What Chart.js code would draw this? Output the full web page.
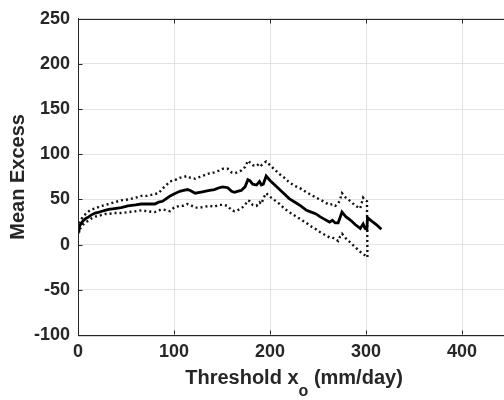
<!DOCTYPE html>
<html><head><meta charset="utf-8">
<script src="https://cdn.jsdelivr.net/npm/chart.js@4.4.0/dist/chart.umd.min.js"></script>
<style>html,body{margin:0;padding:0;background:#fff;overflow:hidden;width:504px;height:400px}</style>
</head><body>
<canvas id="c" width="520" height="400" style="width:520px;height:400px;display:block"></canvas>
<script>
const thresholds = [0,1,3,5,8,10,14,18,22,25,28,32,38,45,52,60,66,72,80,84,88,92,96,100,106,110,114,117,122,127,132,137,142,147,151,156,160,163,166,170,174,177,179,182,186,189,191,193,196,200,205,210,215,220,226,232,238,243,248,252,257,262,265,268,271,273,275,279,284,289,294,297,299,301,301.5,306,311,316];
const meanExcess = [15,19,23,26,29,30,33,35,36,37,38,39,40,41,43,44,45,45,45,47,48,51,54,56,59,60,61,60,57,58,59,60,61,63,64,63,59,58,59,60,64,72,71,67,66,70,66,67,76,71,66,61,56,51,47,43,38,36,34,31,28,25,27,24,24,30,36,31,27,22,18,23,18,17,30,26,22,17];
const upperBound = [18,22,27,31,34,36,39,40,42,43,44,45,47,49,50,52,54,54,56,57,62,66,70,71,74,75,76,74,73,75,77,79,80,82,84,84,80,79,80,82,86,93,91,88,87,90,88,90,92,88,83,78,74,69,65,62,58,55,52,50,47,44,45,43,45,50,57,52,48,43,40,52,49,48,-14,null,null,null];
const lowerBound = [12,15,19,22,25,26,29,31,32,33,34,34,35,35,36,37,38,37,36,38,39,38,37,41,43,43,45,44,41,41,42,43,42,44,44,43,38,37,38,40,44,49,48,44,43,47,45,51,57,53,49,45,40,36,32,28,24,20,17,14,11,8,8,6,4,9,12,7,2,-3,-8,-10,-12,-14,null,null,null,null];
const xTicks = [0,100,200,300,400];
const yTicks = [-100,-50,0,50,100,150,200,250];

const pts = arr => thresholds.map((x,i)=>({x:x,y:arr[i]}));
const FONT = "'Liberation Sans', Arial, sans-serif";
const INK = '#262626';

const frame = {
  id:'frame',
  afterDraw(chart){
    const {ctx, chartArea:a, scales} = chart;
    ctx.save();
    ctx.strokeStyle=INK; ctx.lineWidth=1;
    const L=Math.round(a.left)+0.5, T=Math.round(a.top)+0.5, B=Math.round(a.bottom)-0.5;
    ctx.strokeRect(L, T, a.right-a.left, a.bottom-a.top);
    // inward tick marks
    ctx.beginPath();
    xTicks.forEach(v=>{const px=Math.round(scales.x.getPixelForValue(v))+0.5; ctx.moveTo(px,B); ctx.lineTo(px,B-4); ctx.moveTo(px,T); ctx.lineTo(px,T+4);});
    yTicks.forEach(v=>{const py=Math.round(scales.y.getPixelForValue(v))+0.5; ctx.moveTo(L,py); ctx.lineTo(L+4,py);});
    ctx.stroke();
    ctx.fillStyle=INK;
    // x title with subscript
    ctx.font = "bold 20px " + FONT;
    ctx.textBaseline='alphabetic';
    const p1='Threshold x', p3=' (mm/day)';
    const w1=ctx.measureText(p1).width, w3=ctx.measureText(p3).width;
    ctx.font = "bold 16px " + FONT;
    const w2=ctx.measureText('o').width;
    const total=w1+w2+w3;
    let x0=(a.left+a.right)/2 - total/2;
    const base=384;
    ctx.font = "bold 20px " + FONT;
    ctx.fillText(p1,x0,base);
    ctx.font = "bold 16px " + FONT;
    ctx.fillText('o',x0+w1,base+12);
    ctx.font = "bold 20px " + FONT;
    ctx.fillText(p3,x0+w1+w2,base);
    // y title
    ctx.translate(18,(a.top+a.bottom)/2);
    ctx.rotate(-Math.PI/2);
    ctx.textAlign='center'; ctx.textBaseline='middle';
    ctx.fillText('Mean Excess',0,0);
    ctx.restore();
  }
};

new Chart(document.getElementById('c'),{
  type:'line',
  data:{datasets:[
    {label:'Mean excess',data:pts(meanExcess),borderColor:'#000',borderWidth:2.8,pointRadius:0,tension:0,spanGaps:false},
    {label:'Upper',data:pts(upperBound),borderColor:'#111',borderWidth:2.4,borderDash:[2,3],pointRadius:0,tension:0,spanGaps:false},
    {label:'Lower',data:pts(lowerBound),borderColor:'#111',borderWidth:2.4,borderDash:[2,3],pointRadius:0,tension:0,spanGaps:false}
  ]},
  options:{
    responsive:false,animation:false,
    layout:{padding:{top:14,right:10,left:0,bottom:0}},
    plugins:{legend:{display:false},tooltip:{enabled:false}},
    scales:{
      x:{type:'linear',min:0,max:450,
        afterBuildTicks:s=>{s.ticks=xTicks.map(v=>({value:v}));},
        afterFit:s=>{s.height=65;},
        ticks:{color:INK,padding:6,font:{family:FONT,size:18,weight:'bold'},maxRotation:0},
        grid:{color:'#e3e3e3',drawTicks:false},
        border:{display:true,color:INK,width:1}},
      y:{min:-100,max:250,
        afterBuildTicks:s=>{s.ticks=yTicks.map(v=>({value:v}));},
        afterFit:s=>{s.width=78;},
        ticks:{color:INK,padding:8,font:{family:FONT,size:18,weight:'bold'}},
        grid:{color:'#e3e3e3',drawTicks:false},
        border:{display:true,color:INK,width:1}}
    }
  },
  plugins:[frame]
});
</script>
</body></html>
